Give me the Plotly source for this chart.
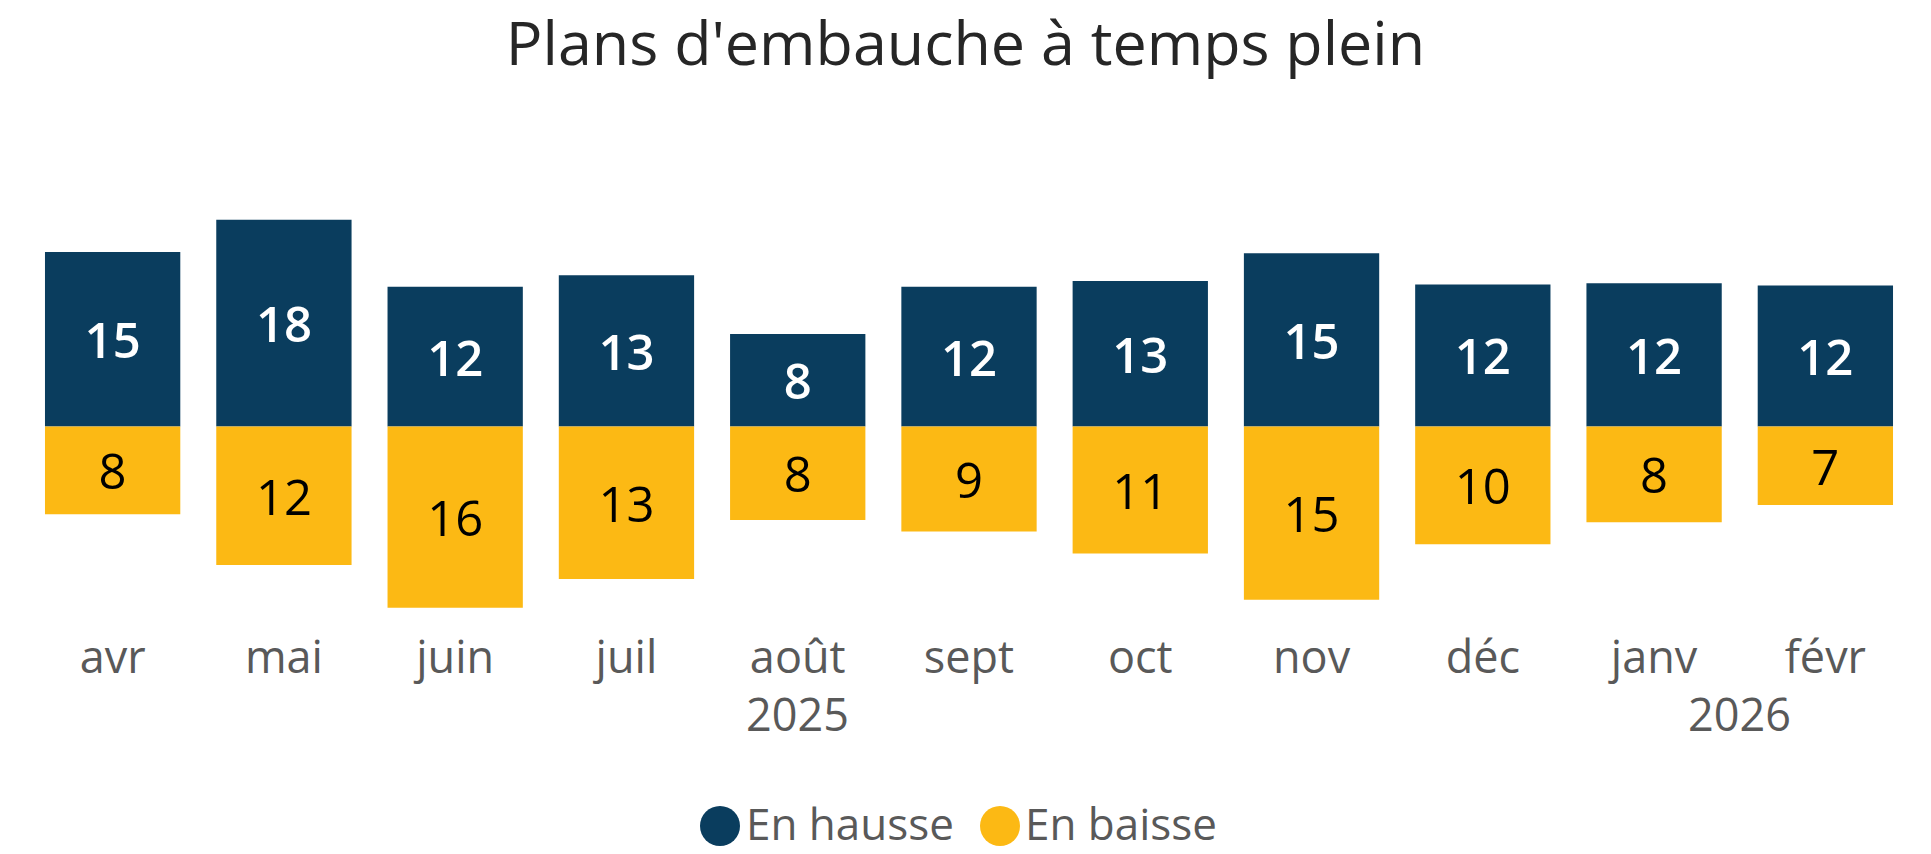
import plotly.graph_objects as go

# ---- data ----
months = ["avr", "mai", "juin", "juil", "août", "sept", "oct", "nov", "déc", "janv", "févr"]
years = ["2025"] * 9 + ["2026"] * 2
en_hausse = [15.1, 17.9, 12.1, 13.1, 8.0, 12.1, 12.6, 15.0, 12.3, 12.4, 12.2]
en_baisse = [7.6, 12.0, 15.7, 13.2, 8.1, 9.1, 11.0, 15.0, 10.2, 8.3, 6.8]
series_names = ["En hausse", "En baisse"]
title_text = "Plans d'embauche à temps plein"

# ---- style ----
NAVY = "#0a3d5e"
GOLD = "#fcb914"
GREY = "#595959"
FONT = "Open Sans"
W, H = 1931, 854
ML, MR, MT, MB = 27, 20, 150, 227
PX_PER_UNIT = 11.55
ZERO_Y = 426.5

plot_h = H - MT - MB
plot_w = W - ML - MR
y_top = (ZERO_Y - MT) / PX_PER_UNIT
y_bot = -(MT + plot_h - ZERO_Y) / PX_PER_UNIT


def px_to_paper_x(px):
    return (px - ML) / plot_w


def px_to_paper_y(py):
    return (MT + plot_h - py) / plot_h


fig = go.Figure()
fig.add_trace(go.Bar(
    x=months, y=en_hausse, name=series_names[0],
    marker=dict(color=NAVY, line=dict(width=0)),
    texttemplate="%{y:.0f}", textposition="inside", insidetextanchor="middle",
    textangle=0, constraintext="none",
    insidetextfont=dict(family=FONT, size=49, color="white", weight=600),
    showlegend=False,
))
fig.add_trace(go.Bar(
    x=months, y=[-v for v in en_baisse], customdata=en_baisse, name=series_names[1],
    marker=dict(color=GOLD, line=dict(width=0)),
    texttemplate="%{customdata:.0f}", textposition="inside", insidetextanchor="middle",
    textangle=0, constraintext="none",
    insidetextfont=dict(family=FONT, size=49, color="black"),
    showlegend=False,
))

annotations = []
shapes = []

# year labels centred under their group of months
for yr in dict.fromkeys(years):
    idx = [i for i, y in enumerate(years) if y == yr]
    annotations.append(dict(
        text=yr, xref="x", yref="paper",
        x=(min(idx) + max(idx)) / 2, y=px_to_paper_y(713),
        xanchor="center", yanchor="middle", showarrow=False,
        font=dict(family=FONT, size=45, color=GREY),
    ))

# legend drawn as circles + labels below the chart
legend_items = [(NAVY, series_names[0], 720, 744), (GOLD, series_names[1], 1000, 1023)]
circle_y = 826
text_y = 823
for color, label, cx, tx in legend_items:
    shapes.append(dict(
        type="circle", xref="paper", yref="paper",
        xsizemode="pixel", ysizemode="pixel",
        xanchor=px_to_paper_x(cx), yanchor=px_to_paper_y(circle_y),
        x0=-20, x1=20, y0=-20, y1=20,
        fillcolor=color, line=dict(width=0),
    ))
    annotations.append(dict(
        text=label, xref="paper", yref="paper",
        x=px_to_paper_x(tx), y=px_to_paper_y(text_y),
        xanchor="left", yanchor="middle", showarrow=False,
        font=dict(family=FONT, size=44, color=GREY),
    ))

fig.update_layout(
    width=W, height=H,
    margin=dict(l=ML, r=MR, t=MT, b=MB),
    paper_bgcolor="white", plot_bgcolor="white",
    barmode="relative", bargap=0.21,
    showlegend=False,
    uniformtext=dict(minsize=46, mode="show"),
    title=dict(text=title_text, x=0.5, xanchor="center",
               y=1 - 44 / H, yanchor="middle",
               font=dict(family=FONT, size=61, color="#262626")),
    xaxis=dict(type="category", showgrid=False, showline=False, ticks="",
               zeroline=False, automargin=False,
               tickfont=dict(family=FONT, size=45, color=GREY)),
    yaxis=dict(visible=False, range=[y_bot, y_top], showgrid=False, zeroline=False),
    shapes=shapes, annotations=annotations,
    font=dict(family=FONT),
)

fig.write_html("out.html", config={"displayModeBar": False},
               post_script="document.body.style.margin='0px';")
